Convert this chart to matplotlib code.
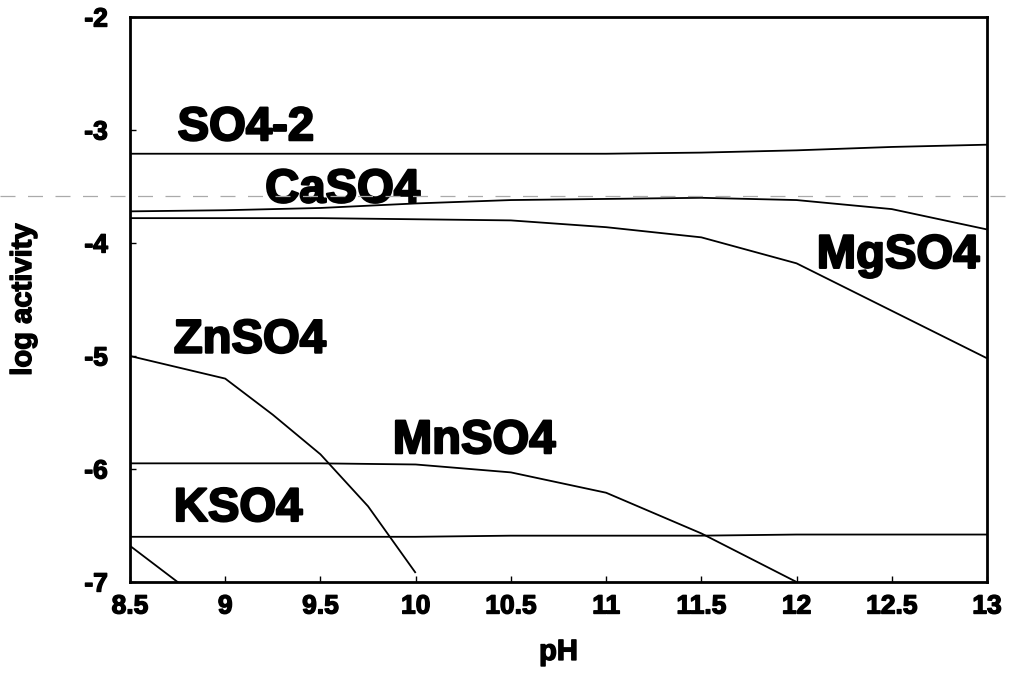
import matplotlib
matplotlib.use("Agg")
import matplotlib.pyplot as plt
from matplotlib.lines import Line2D
import matplotlib.patheffects as pe

plt.rcParams['font.family'] = ['Liberation Sans', 'DejaVu Sans']
plt.rcParams['axes.unicode_minus'] = False

# pH grid and log activities of the sulfate species
ph = [8.5, 9.0, 9.5, 10.0, 10.5, 11.0, 11.5, 12.0, 12.5, 13.0]
so4 = [-3.21, -3.21, -3.21, -3.21, -3.21, -3.21, -3.20, -3.18, -3.15, -3.13]
caso4 = [-3.72, -3.71, -3.69, -3.65, -3.62, -3.61, -3.60, -3.62, -3.70, -3.88]
mgso4 = [-3.78, -3.78, -3.78, -3.79, -3.80, -3.86, -3.95, -4.18, -4.60, -5.02]
mnso4 = [-5.95, -5.95, -5.95, -5.96, -6.03, -6.21, -6.57, -7.00, -7.50, -8.00]
kso4 = [-6.60, -6.60, -6.60, -6.60, -6.59, -6.59, -6.59, -6.58, -6.58, -6.58]

ph_zn = [8.5, 9.0, 9.25, 9.5, 9.75, 10.0]
znso4 = [-5.00, -5.20, -5.52, -5.87, -6.33, -6.92]

ph_low = [8.5, 8.75, 9.0]
low_species = [-6.68, -7.00, -7.32]

xticks = [8.5, 9, 9.5, 10, 10.5, 11, 11.5, 12, 12.5, 13]
xticklabels = ['8.5', '9', '9.5', '10', '10.5', '11', '11.5', '12', '12.5', '13']
yticks = [-7, -6, -5, -4, -3, -2]
yticklabels = ['-7', '-6', '-5', '-4', '-3', '-2']

heavy = [pe.withStroke(linewidth=1.6, foreground='black')]
heavy_small = [pe.withStroke(linewidth=1.0, foreground='black')]

fig = plt.figure(figsize=(10.11, 6.79), dpi=100)
ax = fig.add_axes([130 / 1011, 1 - 582 / 679, 857 / 1011, 565 / 679])

lw = 1.3
for x, y in [(ph, so4), (ph, caso4), (ph, mgso4), (ph, mnso4), (ph, kso4),
             (ph_zn, znso4), (ph_low, low_species)]:
    ax.plot(x, y, color='black', lw=lw, solid_capstyle='butt')

ax.set_xlim(8.5, 13)
ax.set_ylim(-7, -2)
ax.set_xticks(xticks)
ax.set_xticklabels(xticklabels, fontsize=19, fontweight='bold')
ax.set_yticks(yticks)
ax.set_yticklabels(yticklabels, fontsize=19, fontweight='bold')
for t in ax.get_xticklabels() + ax.get_yticklabels():
    t.set_path_effects(heavy_small)
ax.tick_params(direction='in', length=4, width=1, pad=9)
ax.tick_params(axis='y', pad=16)
for s in ax.spines.values():
    s.set_linewidth(2.0)

ax.set_xlabel('pH', fontsize=21, fontweight='bold', labelpad=14,
              path_effects=heavy_small)
ax.set_ylabel('log activity', fontsize=21, fontweight='bold', labelpad=34,
              path_effects=heavy_small)

# species labels
lab = dict(fontsize=34, fontweight='bold', va='baseline', path_effects=heavy)
ax.text(8.75, -3.09, 'SO4-2', ha='left', **lab)
ax.text(9.21, -3.64, 'CaSO4', ha='left', **lab)
ax.text(12.96, -4.22, 'MgSO4', ha='right', **lab)
ax.text(8.73, -4.97, 'ZnSO4', ha='left', **lab)
ax.text(9.88, -5.86, 'MnSO4', ha='left', **lab)
ax.text(8.73, -6.46, 'KSO4', ha='left', **lab)

# faint dashed rule running across the sheet
fig.add_artist(Line2D([0, 1], [1 - 196 / 679, 1 - 196 / 679], transform=fig.transFigure,
                      color='#aaaaaa', lw=0.9, linestyle=(0, (12, 10))))

fig.savefig('out.png', dpi=100)
